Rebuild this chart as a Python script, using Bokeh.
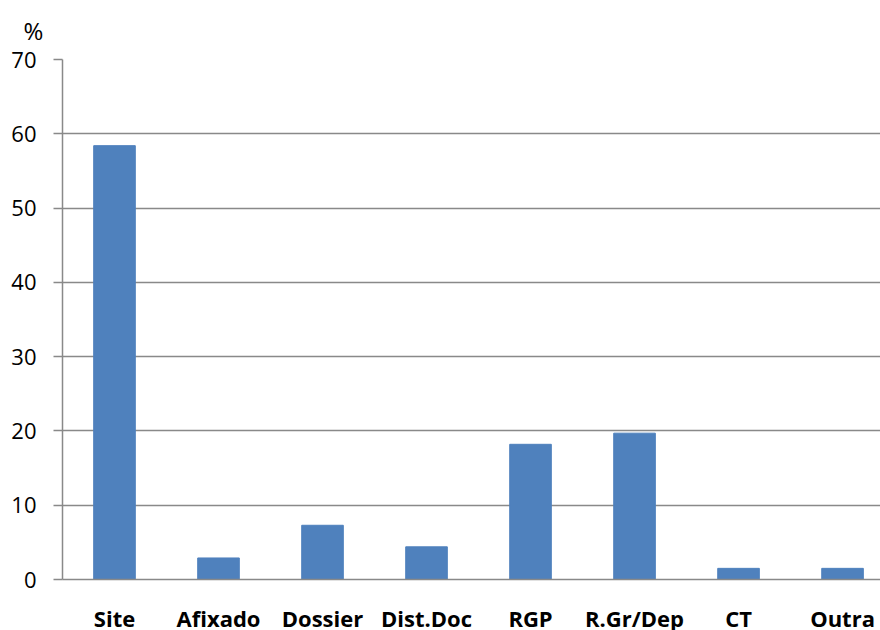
from bokeh.plotting import figure
from bokeh.models import Range1d, FixedTicker, ColumnDataSource
from bokeh.embed import file_html
from bokeh.resources import INLINE

# Share of responses by information channel (%)
categories = ["Site", "Afixado", "Dossier", "Dist.Doc", "RGP", "R.Gr/Dep", "CT", "Outra"]
values = [58.4, 2.9, 7.3, 4.4, 18.2, 19.7, 1.5, 1.5]
y_ticks = [0, 10, 20, 30, 40, 50, 60, 70]

BAR = "#4F81BD"
GRID = "#898989"
FONT = "Open Sans"

positions = [i + 0.5 for i in range(len(categories))]
source = ColumnDataSource(data=dict(x=positions, value=values, name=categories))

p = figure(
    width=880, height=635,
    x_range=Range1d(0, 7.865), y_range=Range1d(0, 70),
    output_backend="svg", toolbar_location=None,
    min_border_left=62, min_border_right=0, min_border_top=59, min_border_bottom=40,
    title="%",
)
p.outline_line_color = None
p.background_fill_color = "white"

# unit marker, shown as the title above the value axis
p.title.text_font = FONT
p.title.text_font_size = "24px"
p.title.text_font_style = "normal"
p.title.text_color = "black"
p.title.align = "left"
p.title.vertical_align = "top"
p.title.offset = -39
p.title.standoff = 22

p.vbar(x="x", top="value", width=0.4, bottom=0, source=source,
       fill_color=BAR, line_color=BAR)

# y axis: gray line, outward ticks, plain labels
p.yaxis.ticker = FixedTicker(ticks=y_ticks)
p.yaxis.axis_line_color = GRID
p.yaxis.axis_line_width = 1.5
p.yaxis.major_tick_line_color = GRID
p.yaxis.major_tick_line_width = 1.5
p.yaxis.major_tick_out = 9
p.yaxis.major_tick_in = 0
p.yaxis.minor_tick_line_color = None
p.yaxis.major_label_text_font = FONT
p.yaxis.major_label_text_font_size = "22px"
p.yaxis.major_label_text_color = "black"
p.yaxis.major_label_standoff = 17

# x axis: category names in bold, no ticks
p.xaxis.ticker = FixedTicker(ticks=positions)
p.xaxis.major_label_overrides = {pos: name for pos, name in zip(positions, categories)}
p.xaxis.axis_line_color = GRID
p.xaxis.axis_line_width = 1.5
p.xaxis.major_tick_line_color = None
p.xaxis.minor_tick_line_color = None
p.xaxis.major_label_text_font = FONT
p.xaxis.major_label_text_font_style = "bold"
p.xaxis.major_label_text_font_size = "22px"
p.xaxis.major_label_text_color = "black"
p.xaxis.major_label_standoff = 17

p.xgrid.grid_line_color = None
p.ygrid.ticker = FixedTicker(ticks=y_ticks)
p.ygrid.grid_line_color = GRID
p.ygrid.grid_line_width = 1.5

open("out.html", "w").write(file_html(p, INLINE))
